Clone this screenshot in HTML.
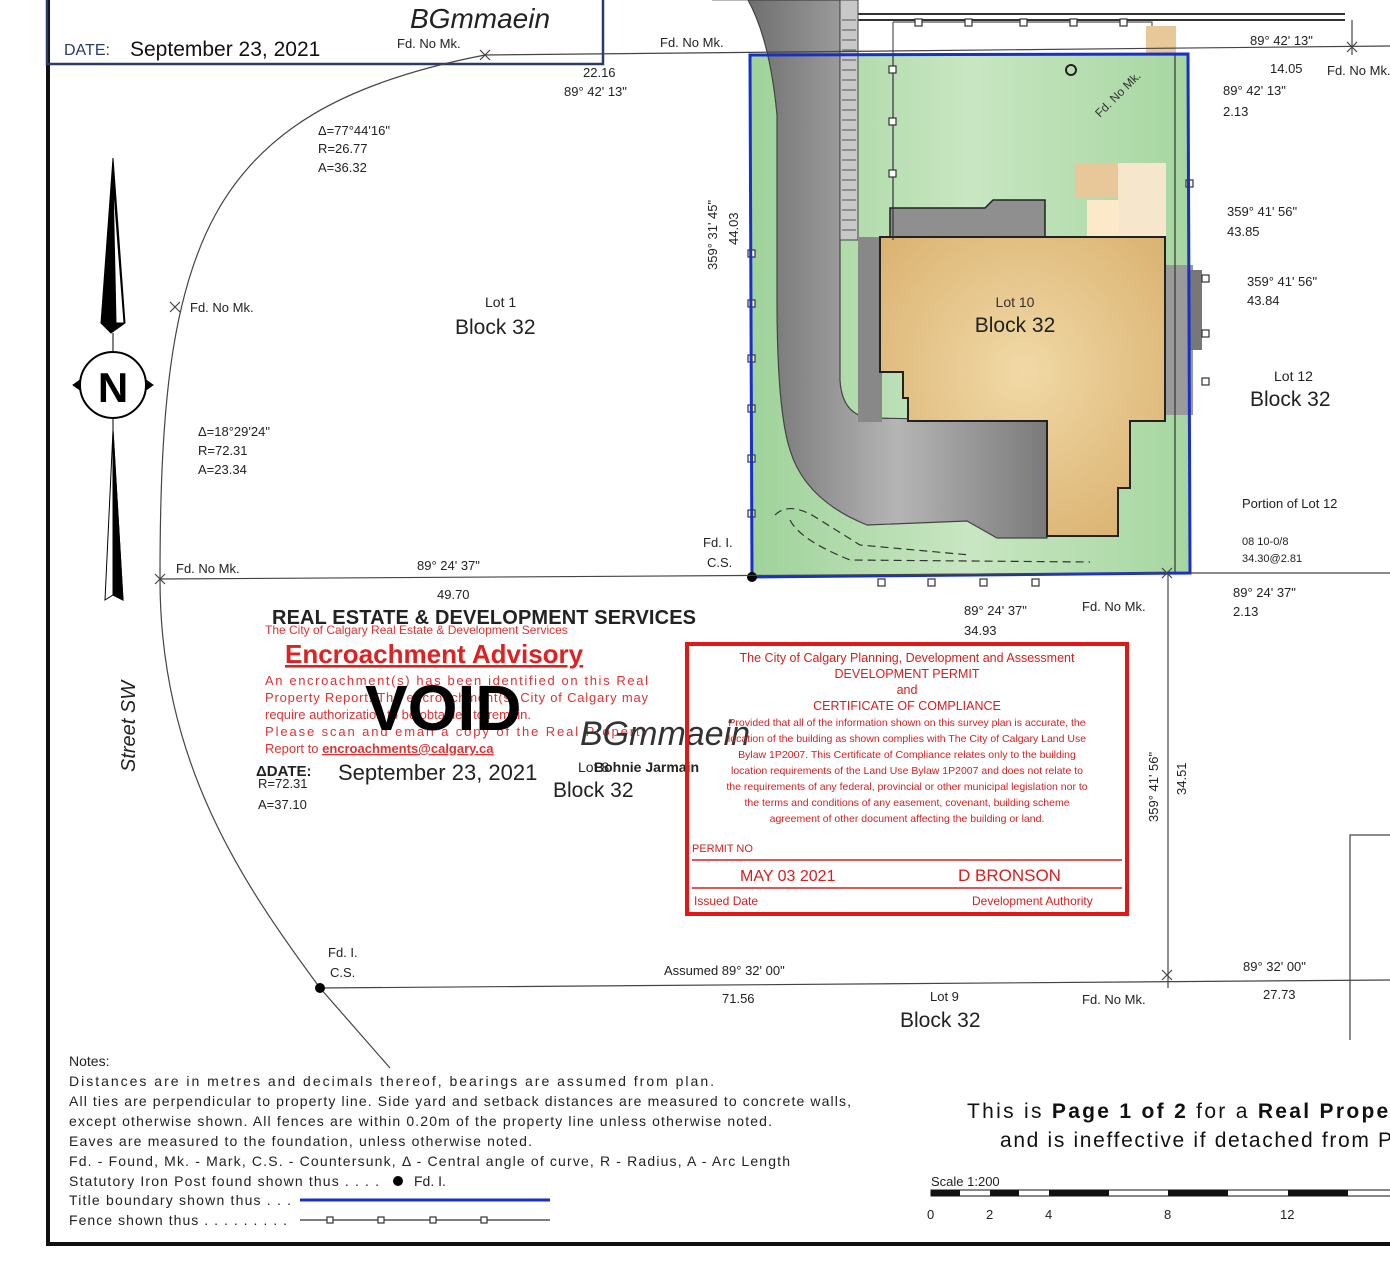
<!DOCTYPE html>
<html><head><meta charset="utf-8"><style>
html,body{margin:0;padding:0;background:#fff;}
svg{display:block;}
text{font-family:"Liberation Sans",Arial,sans-serif;}
</style></head><body>
<svg width="1390" height="1283" viewBox="0 0 1390 1283" xmlns="http://www.w3.org/2000/svg">
<defs>
<linearGradient id="gr" x1="0" x2="1"><stop offset="0" stop-color="#6f6f6f"/><stop offset="0.5" stop-color="#b5b5b5"/><stop offset="1" stop-color="#7a7a7a"/></linearGradient>
<radialGradient id="tan" cx="0.5" cy="0.45" r="0.7"><stop offset="0" stop-color="#f1d9a6"/><stop offset="1" stop-color="#d9b06e"/></radialGradient>
<linearGradient id="grn" x1="0" x2="1"><stop offset="0" stop-color="#9fd29a"/><stop offset="0.5" stop-color="#c8e6c2"/><stop offset="1" stop-color="#a6d6a0"/></linearGradient>
</defs>
<rect width="1390" height="1283" fill="#fff"/>
<path d="M48,0 L48,1244 L1390,1244" fill="none" stroke="#111" stroke-width="4"/>
<rect x="47" y="-5" width="556" height="69" fill="none" stroke="#2a3a6a" stroke-width="2.5"/>
<text x="64" y="55" font-size="16" fill="#2a3a6a">DATE:</text>
<text x="130" y="56" font-size="21" fill="#111">September 23, 2021</text>
<text x="410" y="28" font-size="28" font-style="italic" fill="#222" font-family="Liberation Serif">BGmmaein</text>

<path d="M858,14 L1345,14 M858,20 L1345,20" stroke="#333" stroke-width="2"/>
<path d="M893,22 L1152,22 L1152,55" fill="none" stroke="#555" stroke-width="1.2"/>
<path d="M893,22 L893,240" stroke="#555" stroke-width="1.2"/>
<rect x="1146" y="26" width="30" height="30" fill="#e8c898"/>
<path d="M712,0 L858,0 L858,14" fill="none" stroke="#777" stroke-width="1"/>

<polygon points="750,55 1188,54 1190,573 752,577" fill="url(#grn)"/>
<path d="M748,0 L840,0 L840,380 Q842,415 870,418 L1047,421 L1047,538 L997,538 L967,521 L867,525 Q805,500 790,450 Q777,410 777,300 L777,115 Q770,40 748,0 Z" fill="url(#gr)" stroke="#444" stroke-width="1.2"/>
<rect x="840" y="0" width="18" height="240" fill="#c8c8c8" stroke="#444" stroke-width="1"/>
<g stroke="#555" stroke-width="1">
<path d="M842,20H856M842,30H856M842,40H856M842,50H856M842,60H856M842,70H856M842,80H856M842,90H856M842,100H856M842,110H856M842,120H856M842,130H856M842,140H856M842,150H856M842,160H856M842,170H856M842,180H856M842,190H856M842,200H856M842,210H856M842,220H856M842,230H856"/>
</g>
<rect x="858" y="237" width="24" height="185" fill="#888"/>
<path d="M890,237 L890,208 L985,208 L993,200 L1045,200 L1045,237 Z" fill="#8f8f8f" stroke="#222" stroke-width="1.5"/>
<rect x="1075" y="163" width="45" height="35" fill="#e8c898"/>
<rect x="1118" y="163" width="48" height="75" fill="#f6e6cc"/>
<rect x="1087" y="200" width="32" height="37" fill="#fbe9c9"/>
<rect x="1165" y="265" width="28" height="150" fill="#9a9a9a"/>
<rect x="1190" y="270" width="12" height="80" fill="#777"/>
<polygon points="880,237 1165,237 1165,421 1130,421 1130,488 1118,488 1118,536 1047,536 1047,421 908,421 908,398 903,398 903,372 880,372" fill="url(#tan)" stroke="#222" stroke-width="2"/>
<text x="1015" y="307" font-size="14" text-anchor="middle" fill="#333">Lot 10</text>
<text x="1015" y="332" font-size="21" text-anchor="middle" fill="#222">Block 32</text>
<circle cx="1071" cy="70" r="5" fill="none" stroke="#222" stroke-width="2"/>
<text x="1100" y="118" font-size="12" fill="#333" transform="rotate(-45 1100 118)">Fd. No Mk.</text>
<g fill="#fff" stroke="#333" stroke-width="1.2">
<path d="M893,55 L893,240 M1175,55 L1175,573" fill="none"/>
<rect x="889" y="66" width="7" height="7"/><rect x="889" y="118" width="7" height="7"/><rect x="889" y="170" width="7" height="7"/>
<rect x="915" y="19" width="7" height="7"/><rect x="965" y="19" width="7" height="7"/><rect x="1020" y="19" width="7" height="7"/><rect x="1070" y="19" width="7" height="7"/><rect x="1120" y="19" width="7" height="7"/>
<rect x="748" y="250" width="7" height="7"/><rect x="748" y="300" width="7" height="7"/><rect x="748" y="355" width="7" height="7"/><rect x="748" y="405" width="7" height="7"/><rect x="748" y="455" width="7" height="7"/><rect x="748" y="510" width="7" height="7"/>
<rect x="1186" y="180" width="7" height="7"/><rect x="1202" y="275" width="7" height="7"/><rect x="1202" y="330" width="7" height="7"/><rect x="1202" y="378" width="7" height="7"/>
<rect x="878" y="579" width="7" height="7"/><rect x="928" y="579" width="7" height="7"/><rect x="980" y="579" width="7" height="7"/><rect x="1032" y="579" width="7" height="7"/>
</g>
<path d="M775,515 Q790,500 820,520 L860,545 L970,555 M790,520 Q800,540 850,560 L1090,562" fill="none" stroke="#333" stroke-width="1.2" stroke-dasharray="8,5"/>
<polygon points="750,55 1188,54 1190,573 752,577" fill="none" stroke="#1a2fc8" stroke-width="3"/>
<circle cx="752" cy="577" r="5" fill="#000"/>

<g stroke="#444" stroke-width="1.2" fill="none">
<path d="M485,55 L1390,46"/>
<path d="M160,579 L1168,573"/>
<path d="M320,988 L1390,980"/>
<path d="M1168,573 L1168,988"/>
<path d="M1190,573 L1390,573"/>
<path d="M485,55 C200,110 160,250 160,579 C160,760 240,880 320,988 L390,1068"/>
<path d="M1350,1040 L1350,835 L1390,835"/>
<path d="M1352,20 L1352,55"/>
<path d="M480,50 l10,10 m0,-10 l-10,10 M170,302 l10,10 m0,-10 l-10,10 M155,574 l10,10 m0,-10 l-10,10 M1162,970 l10,10 m0,-10 l-10,10 M1162,568 l10,10 m0,-10 l-10,10 M1347,42 l10,10 m0,-10 l-10,10"/>
</g>
<circle cx="320" cy="988" r="5" fill="#000"/>
<g font-size="13" fill="#222">
<text x="660" y="47">Fd. No Mk.</text>
<text x="397" y="48">Fd. No Mk.</text>
<text x="583" y="77">22.16</text><text x="564" y="96">89° 42' 13"</text>
<text x="1250" y="45">89° 42' 13"</text>
<text x="1270" y="73">14.05</text><text x="1327" y="75">Fd. No Mk.</text>
<text x="1223" y="95">89° 42' 13"</text><text x="1223" y="116">2.13</text>
<text x="318" y="135">Δ=77°44'16"</text><text x="318" y="153">R=26.77</text><text x="318" y="172">A=36.32</text>
<text x="1227" y="216">359° 41' 56"</text><text x="1227" y="236">43.85</text>
<text x="1247" y="286">359° 41' 56"</text><text x="1247" y="305">43.84</text>
<text x="190" y="312">Fd. No Mk.</text>
<text x="198" y="436">Δ=18°29'24"</text><text x="198" y="455">R=72.31</text><text x="198" y="474">A=23.34</text>
<text x="176" y="573">Fd. No Mk.</text>
<text x="417" y="570">89° 24' 37"</text><text x="437" y="599">49.70</text>
<text x="703" y="547">Fd. I.</text><text x="707" y="567">C.S.</text>
<text x="1242" y="508">Portion of Lot 12</text>
<text x="1242" y="545" font-size="11">08  10-0/8</text><text x="1242" y="562" font-size="11">34.30@2.81</text>
<text x="1233" y="597">89° 24' 37"</text><text x="1233" y="616">2.13</text>
<text x="964" y="615">89° 24' 37"</text><text x="964" y="635">34.93</text>
<text x="1082" y="611">Fd. No Mk.</text>
<text x="258" y="788">R=72.31</text><text x="258" y="809">A=37.10</text>
<text x="328" y="957">Fd. I.</text><text x="330" y="977">C.S.</text>
<text x="664" y="975">Assumed  89° 32' 00"</text>
<text x="722" y="1003">71.56</text>
<text x="930" y="1001">Lot 9</text>
<text x="1082" y="1004">Fd. No Mk.</text>
<text x="1243" y="971">89° 32' 00"</text><text x="1263" y="999">27.73</text>
</g>
<text x="717" y="270" font-size="13" fill="#222" transform="rotate(-90 717 270)">359° 31' 45"</text>
<text x="738" y="245" font-size="13" fill="#222" transform="rotate(-90 738 245)">44.03</text>
<text x="1158" y="822" font-size="13" fill="#222" transform="rotate(-90 1158 822)">359° 41' 56"</text>
<text x="1186" y="795" font-size="13" fill="#222" transform="rotate(-90 1186 795)">34.51</text>
<text x="485" y="307" font-size="14" fill="#222">Lot 1</text>
<text x="455" y="334" font-size="21" fill="#222">Block 32</text>
<text x="1274" y="381" font-size="14" fill="#222">Lot 12</text>
<text x="1250" y="406" font-size="21" fill="#222">Block 32</text>
<text x="900" y="1027" font-size="21" fill="#222">Block 32</text>
<text x="553" y="797" font-size="21" fill="#222">Block 32</text>
<text x="135" y="772" font-size="20" font-style="italic" fill="#222" transform="rotate(-90 135 772)">Street SW</text>

<g fill="#000" stroke="#000" stroke-width="1">
<path d="M113,158 L101,323 L111,333 L125,323 Z" fill="#000"/>
<path d="M113,180 L116,323 L124,323 Z" fill="#fff"/>
<path d="M113,358 L113,333"/>
<circle cx="113" cy="385" r="33" fill="#fff" stroke-width="2"/>
<path d="M73,385 L80,380 L80,390 Z M153,385 L146,380 L146,390 Z"/>
<path d="M113,418 L113,430"/>
<path d="M113,430 L105,600 L113,595 L123,600 Z" fill="#fff"/>
<path d="M113,430 L113,595 L123,600 Z"/>
<text x="113" y="402" font-size="42" font-weight="bold" text-anchor="middle" font-family="Liberation Serif" stroke="none">N</text>
</g>

<text x="272" y="624" font-size="20" font-weight="bold" fill="#222" textLength="424">REAL ESTATE &amp; DEVELOPMENT SERVICES</text>
<text x="265" y="634" font-size="12" fill="#d33">The City of Calgary Real Estate &amp; Development Services</text>
<text x="285" y="663" font-size="26" font-weight="bold" fill="#d22" text-decoration="underline">Encroachment Advisory</text>
<g font-size="13" fill="#d33">
<text x="265" y="685" textLength="383">An encroachment(s) has been identified on this Real</text>
<text x="265" y="702" textLength="383">Property Report. The encroachment(s) City of Calgary may</text>
<text x="265" y="719">require authorization to be obtained to remain.</text>
<text x="265" y="736" textLength="383">Please scan and email a copy of the Real Property</text>
<text x="265" y="753">Report to <tspan font-weight="bold" text-decoration="underline">encroachments@calgary.ca</tspan></text>
</g>
<text x="365" y="730" font-size="64" font-weight="bold" fill="#000">VOID</text>
<text x="580" y="745" font-size="34" font-style="italic" fill="#333" font-family="Liberation Serif">BGmmaein</text>
<text x="256" y="776" font-size="15" font-weight="bold" fill="#222">ΔDATE:</text>
<text x="338" y="780" font-size="22" fill="#222">September 23, 2021</text>
<text x="578" y="772" font-size="14" fill="#222">Lot 8</text>
<text x="594" y="772" font-size="14" font-weight="bold" fill="#222">Bohnie Jarmain</text>

<rect x="687" y="644" width="440" height="270" fill="none" stroke="#e01818" stroke-width="4"/>
<g fill="#d42020" font-size="12.5" text-anchor="middle">
<text x="907" y="662">The City of Calgary Planning, Development and Assessment</text>
<text x="907" y="678">DEVELOPMENT PERMIT</text>
<text x="907" y="694">and</text>
<text x="907" y="710">CERTIFICATE OF COMPLIANCE</text>
<g font-size="10.5">
<text x="907" y="726">Provided that all of the information shown on this survey plan is accurate, the</text>
<text x="907" y="742">location of the building as shown complies with The City of Calgary Land Use</text>
<text x="907" y="758">Bylaw 1P2007. This Certificate of Compliance relates only to the building</text>
<text x="907" y="774">location requirements of the Land Use Bylaw 1P2007 and does not relate to</text>
<text x="907" y="790">the requirements of any federal, provincial or other municipal legislation nor to</text>
<text x="907" y="806">the terms and conditions of any easement, covenant, building scheme</text>
<text x="907" y="822">agreement of other document affecting the building or land.</text>
</g>
</g>
<text x="692" y="852" font-size="11" fill="#d42020">PERMIT NO</text>
<path d="M692,860 L1122,860 M692,888 L1122,888" stroke="#d42020" stroke-width="1.5"/>
<text x="740" y="881" font-size="16" fill="#d42020">MAY 03 2021</text>
<text x="958" y="881" font-size="17" fill="#d42020">D BRONSON</text>
<text x="694" y="905" font-size="12" fill="#d42020">Issued Date</text>
<text x="972" y="905" font-size="12" fill="#d42020">Development Authority</text>

<g font-size="14" fill="#222">
<text x="69" y="1066">Notes:</text>
<text x="69" y="1086" textLength="645">Distances are in metres and decimals thereof, bearings are assumed from plan.</text>
<text x="69" y="1106" textLength="782">All ties are perpendicular to property line. Side yard and setback distances are measured to concrete walls,</text>
<text x="69" y="1126" textLength="703">except otherwise shown. All fences are within 0.20m of the property line unless otherwise noted.</text>
<text x="69" y="1146" textLength="463">Eaves are measured to the foundation, unless otherwise noted.</text>
<text x="69" y="1166" textLength="721">Fd. - Found, Mk. - Mark, C.S. - Countersunk, Δ - Central angle of curve, R - Radius, A - Arc Length</text>
<text x="69" y="1186" textLength="310">Statutory Iron Post found shown thus . . . .</text>
<text x="414" y="1186">Fd. I.</text>
<text x="69" y="1205" textLength="222">Title boundary shown thus . . .</text>
<text x="69" y="1225" textLength="218">Fence shown thus . . . . . . . . .</text>
</g>
<circle cx="398" cy="1181" r="5" fill="#000"/>
<path d="M300,1200 L550,1200" stroke="#1a2fc8" stroke-width="3"/>
<path d="M300,1220 L550,1220" stroke="#333" stroke-width="1.2"/>
<g fill="#fff" stroke="#333" stroke-width="1.2"><rect x="327" y="1217" width="6" height="6"/><rect x="378" y="1217" width="6" height="6"/><rect x="430" y="1217" width="6" height="6"/><rect x="481" y="1217" width="6" height="6"/></g>

<text x="967" y="1118" font-size="21" fill="#111" textLength="455">This is <tspan font-weight="bold">Page 1 of 2</tspan> for a <tspan font-weight="bold">Real Property</tspan></text>
<text x="1000" y="1147" font-size="21" fill="#111" textLength="392">and is ineffective if detached from P</text>
<text x="931" y="1186" font-size="13" fill="#222">Scale 1:200</text>
<rect x="931" y="1190" width="470" height="6" fill="none" stroke="#111" stroke-width="1"/>
<g fill="#111"><rect x="931" y="1190" width="29" height="6"/><rect x="990" y="1190" width="29" height="6"/><rect x="1049" y="1190" width="60" height="6"/><rect x="1168" y="1190" width="60" height="6"/><rect x="1288" y="1190" width="60" height="6"/></g>
<g font-size="13" fill="#222"><text x="927" y="1219">0</text><text x="986" y="1219">2</text><text x="1045" y="1219">4</text><text x="1164" y="1219">8</text><text x="1280" y="1219">12</text></g>
</svg>
</body></html>
